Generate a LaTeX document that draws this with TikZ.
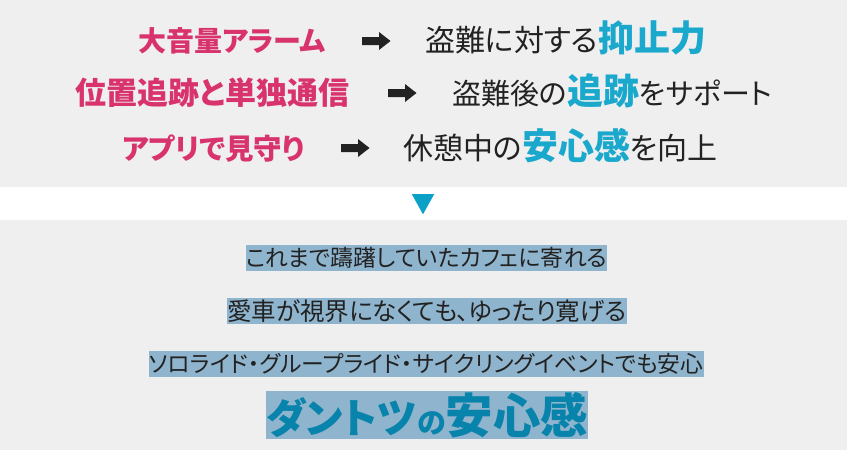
\documentclass[tikz,border=0pt]{standalone}
\usepackage{fontspec}
\usepackage{tikz}
\newfontfamily\jpfont{Noto Sans CJK JP}[RawFeature=+palt]
\definecolor{bggray}{RGB}{239,239,239}
\definecolor{alarmpink}{RGB}{217,51,110}
\definecolor{keycyan}{RGB}{26,168,204}
\definecolor{inkdark}{RGB}{34,34,34}
\definecolor{markblue}{RGB}{143,180,205}
\definecolor{bigcyan}{RGB}{8,131,171}
\definecolor{tricyan}{RGB}{10,160,200}
\def\fatarrow(#1,#2){\draw[fill=inkdark, draw=none] (#1, #2-4) -- (#1+17, #2-4) -- (#1+17, #2-9) -- (#1+28.5, #2) -- (#1+17, #2+9) -- (#1+17, #2+4) -- (#1, #2+4) -- cycle;}
\def\keyword#1{{\color{keycyan}\bfseries\fontsize{36}{36}\selectfont #1}}

\begin{document}
\begin{tikzpicture}[x=1pt, y=-1pt,
		featuretxt/.style={inner sep=0pt, anchor=base west, text=alarmpink},
		effecttxt/.style={inner sep=0pt, anchor=base west, text=inkdark, font=\jpfont\fontsize{30}{30}\selectfont},
		markbox/.style={fill=markblue, inner xsep=0pt, inner ysep=0pt, minimum height=26pt, text=inkdark}]
			%%%%% START %%%%%
			\useasboundingbox (0, 0) rectangle (847, 450);
			\draw[fill=white, draw=none] (0, 0) rectangle (847, 450);
			
			\draw[fill=bggray, draw=none] (0, 0) rectangle (847, 187);
			\draw[fill=bggray, draw=none] (0, 219.5) rectangle (847, 450);
			
			\node[featuretxt, font=\jpfont\bfseries\fontsize{28}{28}\selectfont] (alarm) at (138, 51.5) {大音量アラーム};
			\fatarrow(362, 41)
			\node[effecttxt] (deter) at (425, 51.5) {盗難に対する\keyword{抑止力}};
			
			\node[featuretxt, font=\jpfont\bfseries\fontsize{31}{31}\selectfont] (tracking) at (75, 104.5) {位置追跡と単独通信};
			\fatarrow(388, 93)
			\node[effecttxt, font=\jpfont\fontsize{29}{29}\selectfont] (chase) at (452, 104.5) {盗難後の\keyword{追跡}をサポート};
			
			\node[featuretxt, font=\jpfont\bfseries\fontsize{28.5}{28.5}\selectfont] (watch) at (122, 159) {アプリで見守り};
			\fatarrow(341, 148)
			\node[effecttxt] (rest) at (403, 159) {休憩中の\keyword{安心感}を向上};
			
			\draw[fill=tricyan, draw=none] (411.7, 194) -- (434.3, 194) -- (423, 214.3) -- cycle;
			
			\node[markbox, font=\jpfont\fontsize{22.9}{22.9}\selectfont] (cafe) at (426.5, 257.5) {これまで躊躇していたカフェに寄れる};
			\node[markbox, font=\jpfont\fontsize{24.5}{24.5}\selectfont] (relax) at (427, 311) {愛車が視界になくても、ゆったり寛げる};
			\node[markbox, font=\jpfont\fontsize{22.8}{22.8}\selectfont] (ride) at (426.5, 364) {ソロライド・グループライド・サイクリングイベントでも安心};
			
			\node[markbox, minimum height=48pt, text=bigcyan, font=\jpfont\bfseries] (dantotsu) at (427, 415) {{\fontsize{41}{41}\selectfont ダントツ}{\fontsize{29}{29}\selectfont の}{\fontsize{47.5}{47.5}\selectfont 安心感}};
			%%%%% END %%%%%
		\end{tikzpicture}
\end{document}
